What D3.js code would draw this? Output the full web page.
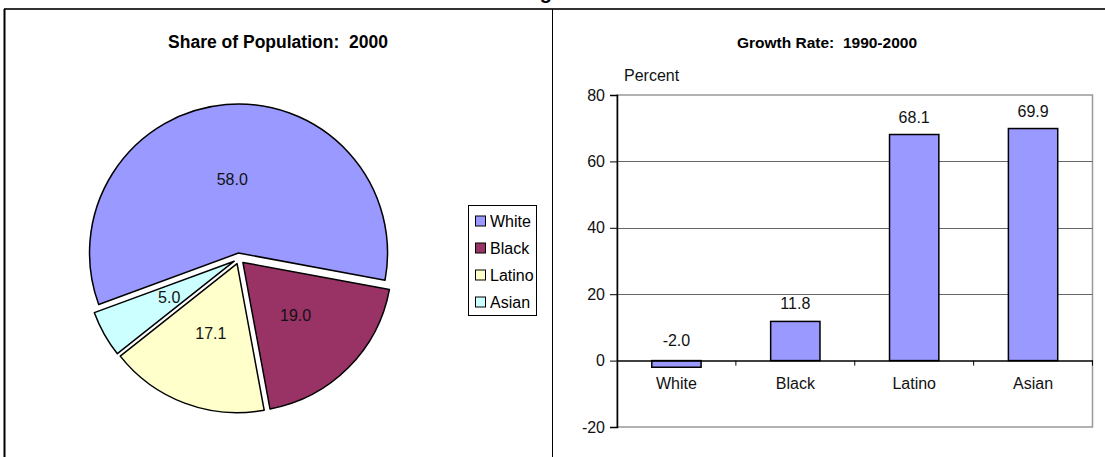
<!DOCTYPE html>
<html>
<head>
<meta charset="utf-8">
<script src="https://cdn.jsdelivr.net/npm/d3@7"></script>
<style>
  html, body { margin: 0; padding: 0; background: #fff; }
  svg { display: block; font-family: "Liberation Sans", Arial, sans-serif; }
</style>
</head>
<body>
<svg id="chart" width="1105" height="457"></svg>
<script>
// Racial / ethnic groups shown in both panels
const groups = ["White", "Black", "Latino", "Asian"];
// Share of population in 2000 (percent)
const popShare = [58.0, 19.0, 17.1, 5.0];
// Growth rate 1990-2000 (percent)
const growthRate = [-2.0, 11.8, 68.1, 69.9];
// Value axis ticks for the growth panel
const yTicks = [-20, 0, 20, 40, 60, 80];
// Slice fills, one per group
const sliceColors = ["#9999FF", "#993366", "#FFFFCC", "#CCFFFF"];
const barColor = "#9999FF";

// Plain hyphen-minus formatting
const fmt1 = v => v.toFixed(1);
const fmt0 = v => String(v);

const svg = d3.select("#chart");

// ---- Page title (sits above the frame, mostly off the top edge) ----
const mainTitle = svg.append("text")
  .attr("y", -1)
  .attr("font-size", 20)
  .attr("font-weight", "bold")
  .text("Race and Ethnic Change");
{
  const node = mainTitle.node();
  const s = mainTitle.text();
  const gi = s.lastIndexOf("g");
  const before = node.getSubStringLength(0, gi);
  const gw = node.getSubStringLength(gi, 1);
  mainTitle.attr("x", 546 - before - gw / 2);
}

// ---- Panel frames ----
const frame = svg.append("g");
frame.append("line").attr("x1", 4).attr("x2", 1105).attr("y1", 9).attr("y2", 9)
  .attr("stroke", "#333").attr("stroke-width", 2);
frame.append("line").attr("x1", 4.5).attr("x2", 4.5).attr("y1", 9).attr("y2", 457)
  .attr("stroke", "#000").attr("stroke-width", 2);
frame.append("line").attr("x1", 552.5).attr("x2", 552.5).attr("y1", 9).attr("y2", 457)
  .attr("stroke", "#000").attr("stroke-width", 1);

// ---- Left panel: exploded pie ----
svg.append("text")
  .attr("x", 278).attr("y", 48)
  .attr("text-anchor", "middle")
  .attr("font-size", 17.5).attr("font-weight", "bold")
  .style("white-space", "pre")
  .text("Share of Population:  2000");

const pieData = groups.map((g, i) => ({ group: g, value: popShare[i], color: sliceColors[i] }));
const start = -110.2 * Math.PI / 180;
const pie = d3.pie().value(d => d.value).sort(null)
  .startAngle(start).endAngle(start + 2 * Math.PI);
const radius = 149;
const explode = 5.5;
const arc = d3.arc().innerRadius(0).outerRadius(radius);

const pieG = svg.append("g").attr("transform", "translate(239,258.5)");
const slices = pieG.selectAll("g.slice").data(pie(pieData)).join("g")
  .attr("class", "slice")
  .attr("transform", d => {
    const a = (d.startAngle + d.endAngle) / 2;
    return `translate(${Math.sin(a) * explode},${-Math.cos(a) * explode})`;
  });
slices.append("path")
  .attr("d", arc)
  .attr("fill", d => d.data.color)
  .attr("stroke", "#000").attr("stroke-width", 1.5)
  .attr("stroke-linejoin", "round");
slices.append("text")
  .attr("transform", d => `translate(${arc.centroid(d)})`)
  .attr("text-anchor", "middle")
  .attr("dy", "0.36em")
  .attr("font-size", 16)
  .attr("fill", "#111")
  .text(d => fmt1(d.data.value));

// Legend
const legend = svg.append("g").attr("transform", "translate(468,205)");
legend.append("rect").attr("x", 0.5).attr("y", 0.5).attr("width", 68).attr("height", 110)
  .attr("fill", "#fff").attr("stroke", "#000").attr("stroke-width", 1);
const items = legend.selectAll("g.item").data(pieData).join("g")
  .attr("class", "item")
  .attr("transform", (d, i) => `translate(0,${16 + i * 27})`);
items.append("rect").attr("x", 7.5).attr("y", -5).attr("width", 10).attr("height", 10)
  .attr("fill", d => d.color).attr("stroke", "#000").attr("stroke-width", 1);
items.append("text").attr("x", 22).attr("dy", "0.36em")
  .attr("font-size", 16).attr("fill", "#000")
  .text(d => d.group);

// ---- Right panel: growth rate bars ----
svg.append("text")
  .attr("x", 827).attr("y", 48)
  .attr("text-anchor", "middle")
  .attr("font-size", 15.5).attr("font-weight", "bold")
  .style("white-space", "pre")
  .text("Growth Rate:  1990-2000");

const plot = { left: 617, right: 1092.5, top: 95, bottom: 427 };
const x = d3.scaleBand().domain(groups).range([plot.left, plot.right]).padding(0);
const y = d3.scaleLinear().domain([d3.min(yTicks), d3.max(yTicks)]).range([plot.bottom, plot.top]);
const barW = x.bandwidth() * 0.415;

// Plot area border
svg.append("rect")
  .attr("x", plot.left).attr("y", y(80))
  .attr("width", plot.right - plot.left).attr("height", y(-20) - y(80))
  .attr("fill", "none").attr("stroke", "#999").attr("stroke-width", 1.5);

// Horizontal gridlines
svg.append("g").selectAll("line")
  .data(yTicks.filter(t => t > 0 && t < 80)).join("line")
  .attr("x1", plot.left).attr("x2", plot.right)
  .attr("y1", d => Math.round(y(d)) + 0.5).attr("y2", d => Math.round(y(d)) + 0.5)
  .attr("stroke", "#666").attr("stroke-width", 1);

// Bars
const barData = groups.map((g, i) => ({ group: g, value: growthRate[i] }));
svg.append("g").selectAll("rect")
  .data(barData).join("rect")
  .attr("x", d => x(d.group) + (x.bandwidth() - barW) / 2)
  .attr("y", d => y(Math.max(0, d.value)))
  .attr("width", barW)
  .attr("height", d => Math.abs(y(d.value) - y(0)))
  .attr("fill", barColor).attr("stroke", "#000").attr("stroke-width", 1.5);

// Value labels
svg.append("g").selectAll("text")
  .data(barData).join("text")
  .attr("x", d => x(d.group) + x.bandwidth() / 2)
  .attr("y", d => y(Math.max(0, d.value)) - (d.value < 0 ? 15 : 12))
  .attr("text-anchor", "middle")
  .attr("font-size", 16).attr("fill", "#111")
  .text(d => fmt1(d.value));

// Y axis
const yAxis = svg.append("g")
  .attr("transform", `translate(${plot.left},0)`)
  .call(d3.axisLeft(y).tickValues(yTicks).tickSize(7).tickPadding(5).tickFormat(fmt0));
yAxis.select(".domain").attr("stroke", "#000").attr("stroke-width", 1.5);
yAxis.selectAll(".tick line").attr("stroke", "#000");
yAxis.selectAll(".tick text").attr("font-size", 16).attr("fill", "#111")
  .attr("font-family", "Liberation Sans, Arial, sans-serif");

// Zero line with category ticks and labels
const xAxis = svg.append("g")
  .attr("transform", `translate(0,${y(0)})`)
  .call(d3.axisBottom(x).tickSize(0).tickPadding(17));
xAxis.select(".domain").attr("stroke", "#000").attr("stroke-width", 1.5);
xAxis.selectAll(".tick text").attr("font-size", 16).attr("fill", "#111")
  .attr("font-family", "Liberation Sans, Arial, sans-serif");
xAxis.append("g").selectAll("line")
  .data(groups).join("line")
  .attr("x1", d => x(d) + x.bandwidth()).attr("x2", d => x(d) + x.bandwidth())
  .attr("y1", 0).attr("y2", 5)
  .attr("stroke", "#000").attr("stroke-width", 1);

// Unit label
svg.append("text")
  .attr("x", 624).attr("y", 81)
  .attr("font-size", 16).attr("fill", "#111")
  .text("Percent");
</script>
</body>
</html>
